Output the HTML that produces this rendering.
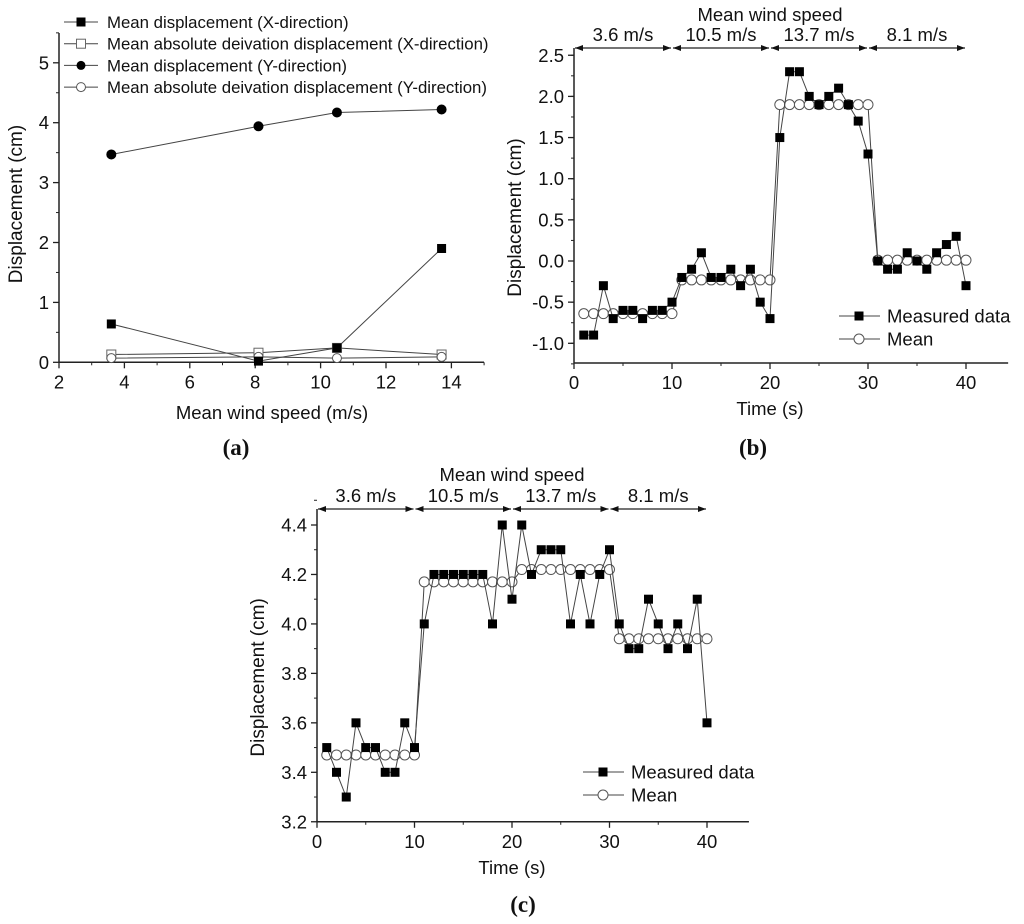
<!DOCTYPE html>
<html><head><meta charset="utf-8"><style>
body{margin:0;background:#fff}
svg{display:block;font-family:"Liberation Sans",sans-serif}
</style></head><body>
<svg id="s" width="1024" height="924" viewBox="0 0 1024 924" xmlns="http://www.w3.org/2000/svg"></svg>
<script>
// Panel (a) data
const aSpeeds=[3.6,8.1,10.5,13.7];
const aXMean=[0.64,0.02,0.24,1.9];
const aXMad=[0.13,0.16,0.24,0.13];
const aYMean=[3.47,3.94,4.17,4.22];
const aYMad=[0.07,0.09,0.07,0.09];
const aXTicks=[2,4,6,8,10,12,14];
const aYTicks=[0,1,2,3,4,5];
// Panel (b) data
const bMeasured=[-0.9,-0.9,-0.3,-0.7,-0.6,-0.6,-0.7,-0.6,-0.6,-0.5,-0.2,-0.1,0.1,-0.2,-0.2,-0.1,-0.3,-0.1,-0.5,-0.7,1.5,2.3,2.3,2.0,1.9,2.0,2.1,1.9,1.7,1.3,0,-0.1,-0.1,0.1,0,-0.1,0.1,0.2,0.3,-0.3];
const bMeans=[-0.64,-0.23,1.9,0.01];
const bYTicks=[-1.0,-0.5,0.0,0.5,1.0,1.5,2.0,2.5];
// Panel (c) data
const cMeasured=[3.5,3.4,3.3,3.6,3.5,3.5,3.4,3.4,3.6,3.5,4.0,4.2,4.2,4.2,4.2,4.2,4.2,4.0,4.4,4.1,4.4,4.2,4.3,4.3,4.3,4.0,4.2,4.0,4.2,4.3,4.0,3.9,3.9,4.1,4.0,3.9,4.0,3.9,4.1,3.6];
const cMeans=[3.47,4.17,4.22,3.94];
const cYTicks=[3.2,3.4,3.6,3.8,4.0,4.2,4.4];
const timeTicks=[0,10,20,30,40];
const segLabels=["3.6 m/s","10.5 m/s","13.7 m/s","8.1 m/s"];

const NS="http://www.w3.org/2000/svg";
const svg=document.getElementById('s');
const FS=18.5;
function el(tag,attrs,parent){const e=document.createElementNS(NS,tag);for(const k in attrs)e.setAttribute(k,attrs[k]);(parent||svg).appendChild(e);return e;}
function txt(x,y,s,size,anchor,parent,extra){const t=el('text',Object.assign({x:x,y:y,'font-size':size,'text-anchor':anchor||'middle',fill:'#111'},extra||{}),parent);t.textContent=s;return t;}
function lin(x1,y1,x2,y2,p,w,c){return el('line',{x1,y1,x2,y2,stroke:c||'#222','stroke-width':w||1},p);}
function marker(p,kind,x,y,r){
  let m;
  if(kind==='fsq')m=el('rect',{x:x-r,y:y-r,width:2*r,height:2*r,fill:'#000'},p);
  else if(kind==='osq')m=el('rect',{x:x-r,y:y-r,width:2*r,height:2*r,fill:'#fff',stroke:'#666','stroke-width':1},p);
  else if(kind==='fci')m=el('circle',{cx:x,cy:y,r:r,fill:'#000'},p);
  else m=el('circle',{cx:x,cy:y,r:r,fill:'#fff',stroke:'#555','stroke-width':1},p);
  return m;
}
function series(p,name,xs,ys,sx,sy,kind,r){
  const g=el('g',{},p);
  
  
  el('polyline',{points:xs.map((x,i)=>sx(x)+','+sy(ys[i])).join(' '),fill:'none',stroke:'#444','stroke-width':1},g);
  xs.forEach((x,i)=>{const m=marker(g,kind,sx(x),sy(ys[i]),r);
    
    });
}
function axes(p,x0,x1,y0,y1,sx,sy,xTicks,xMinor,yTicks,yMinor,yFmt){
  lin(x0,y0,x1,y0,p,1.5);lin(x0,y0,x0,y1,p,1.5);
  xTicks.forEach(v=>{lin(sx(v),y0,sx(v),y0+6,p,1.3);txt(sx(v),y0+26,String(v),FS,'middle',p);});
  xMinor.forEach(v=>lin(sx(v),y0,sx(v),y0+3,p,1));
  yTicks.forEach(v=>{lin(x0,sy(v),x0-6,sy(v),p,1.3);txt(x0-10,sy(v)+6.5,yFmt(v),FS,'end',p);});
  yMinor.forEach(v=>lin(x0,sy(v),x0-3,sy(v),p,1));
}
function range(a,b,s){const r=[];for(let v=a;v<=b+1e-9;v+=s)r.push(+v.toFixed(3));return r;}

// ---------- Panel A ----------
const pa=el('g',{});
const ax=v=>59+(v-2)*32.7, ay=v=>362.3-v*59.9;
axes(pa,59,484,362.3,33,ax,ay,aXTicks,[3,5,7,9,11,13,15],aYTicks,range(0.5,5.5,1),v=>String(v));
series(pa,'series-x-mad',aSpeeds,aXMad,ax,ay,'osq',4.5);
series(pa,'series-y-mad',aSpeeds,aYMad,ax,ay,'oci',4.5);
series(pa,'series-x-mean',aSpeeds,aXMean,ax,ay,'fsq',4.5);
series(pa,'series-y-mean',aSpeeds,aYMean,ax,ay,'fci',5);
txt(272,419,'Mean wind speed (m/s)',FS,'middle',pa);
txt(0,0,'Displacement (cm)',FS+0.5,'middle',pa,{transform:'translate(22,204) rotate(-90)'});
const legA=[['fsq','Mean displacement (X-direction)'],['osq','Mean absolute deivation displacement (X-direction)'],['fci','Mean displacement (Y-direction)'],['oci','Mean absolute deivation displacement (Y-direction)']];
legA.forEach((it,i)=>{const g=el('g',{},pa);
  const y=22+i*21.7;lin(64,y,98,y,g,1,'#444');marker(g,it[0],81,y,4.5);txt(107,y+6,it[1],16.8,'start',g);});
txt(236,455,'(a)',23,'middle',pa,{'font-family':'Liberation Serif, serif','font-weight':'bold'});

// ---------- Panel B / C helper ----------
function timePanel(name,x0,sx,y0,yTop,sy,yTicks,yMinor,fmt,measured,means,annY,titleY,legX,legY,ylabelX,panelLabel,plX,plY){
  const p=el('g',{});
  axes(p,x0,sx(44.3),y0,yTop,sx,sy,timeTicks,[5,15,25,35],yTicks,yMinor,fmt);
  const ts=measured.map((_,i)=>i+1);
  const mv=ts.map(t=>means[Math.min(3,Math.floor((t-1)/10))]);
  series(p,'series-mean',ts,mv,sx,sy,'oci',5);
  series(p,'series-measured',ts,measured,sx,sy,'fsq',4.5);
  const ag=el('g',{},p);
  txt(sx(20),titleY,'Mean wind speed',FS,'middle',ag);
  segLabels.forEach((s,i)=>{const a=sx(i*10)+1,b=sx(i*10+10)-1;
    lin(a,annY,b,annY,ag,1.2);
    el('path',{d:`M${a},${annY} l8,-3 v6 z M${b},${annY} l-8,-3 v6 z`,fill:'#111'},ag);
    txt((a+b)/2,annY-7,s,FS,'middle',ag);});
  lin(x0,yTop,x0,annY,p,1.5);
  const items=[['fsq','Measured data'],['oci','Mean']];
  items.forEach((it,i)=>{const g=el('g',{},p);
    const y=legY+i*23;lin(legX,y,legX+41,y,g,1,'#444');marker(g,it[0],legX+20,y,it[0]==='fsq'?4.5:5);txt(legX+48,y+6.5,it[1],FS,'start',g);});
  txt(sx(20),y0+52,'Time (s)',FS,'middle',p);
  txt(0,0,'Displacement (cm)',FS+0.5,'middle',p,{transform:`translate(${ylabelX},${(y0+yTop)/2+12}) rotate(-90)`});
  txt(plX,plY,panelLabel,23,'middle',p,{'font-family':'Liberation Serif, serif','font-weight':'bold'});
}
const bx=v=>574+v*9.8, by=v=>261-v*82.3;
timePanel('panel-b',574,bx,363,48,by,bYTicks,range(-1.25,2.5,0.25),v=>v.toFixed(1),bMeasured,bMeans,48,21,839,316,521,'(b)',753,455);
const cx=v=>317+v*9.75, cy=v=>772.3-(v-3.4)*247.3;
timePanel('panel-c',317,cx,821.8,509,cy,cYTicks,range(3.3,4.5,0.2),v=>v.toFixed(1),cMeasured,cMeans,509,481,583,772,264,'(c)',523,912);
</script>
</body></html>
